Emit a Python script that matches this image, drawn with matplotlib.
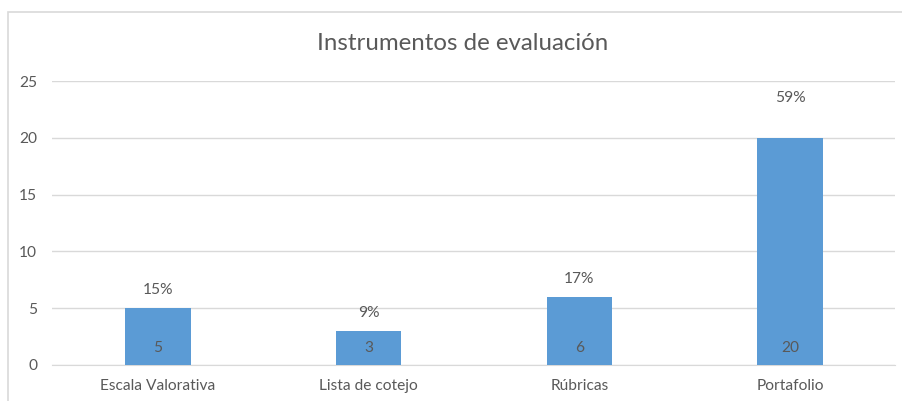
import matplotlib.pyplot as plt
from matplotlib.patches import Rectangle

# Datos del gráfico
categorias = ["Escala Valorativa", "Lista de cotejo", "Rúbricas", "Portafolio"]
valores = [5, 3, 6, 20]
porcentajes = ["15%", "9%", "17%", "59%"]

plt.rcParams['font.family'] = ['Lato', 'DejaVu Sans']
gris = '#595959'

W, H = 903, 401
fig = plt.figure(figsize=(W / 100, H / 100), dpi=100)
ax = fig.add_axes([52.5 / W, 1 - 365 / H, 843 / W, 284 / H])

# Marco exterior del gráfico
fig.patches.append(Rectangle((8 / W, -0.1), 1.2, 1 - 12 / H + 0.1, transform=fig.transFigure,
                             fill=False, edgecolor='#d9d9d9', linewidth=1.2))

x = range(len(categorias))
barras = ax.bar(x, valores, width=0.31, color='#5b9bd5', zorder=3)

ax.set_xlim(-0.5, len(categorias) - 0.5)
ax.set_ylim(0, 25)
ax.set_yticks([0, 5, 10, 15, 20, 25])
ax.grid(axis='y', color='#d9d9d9', linewidth=1, zorder=0)
for s in ax.spines.values():
    s.set_visible(False)
ax.spines['bottom'].set_visible(True)
ax.spines['bottom'].set_color('#d9d9d9')
ax.set_xticks(list(x))
ax.set_xticklabels(categorias)
ax.tick_params(length=0, colors=gris, labelsize=11.2)
ax.tick_params(axis='y', pad=11)
ax.tick_params(axis='x', pad=10)

# Valores dentro de las barras y porcentajes encima
desplazamientos = [18, 18, 18, 40]
for i, (v, p) in enumerate(zip(valores, porcentajes)):
    ax.annotate(str(v), (i, 0), xytext=(0, 17), textcoords='offset pixels',
                ha='center', va='center', color=gris, fontsize=11.2, zorder=4)
    ax.annotate(p, (i, v), xytext=(0, desplazamientos[i]), textcoords='offset pixels',
                ha='center', va='center', color=gris, fontsize=11.2, zorder=4)

fig.text(463 / W, 1 - 44 / H, "Instrumentos de evaluación", ha='center', va='center',
         color=gris, fontsize=17.3)

fig.savefig('out.png', dpi=100, facecolor='white')
